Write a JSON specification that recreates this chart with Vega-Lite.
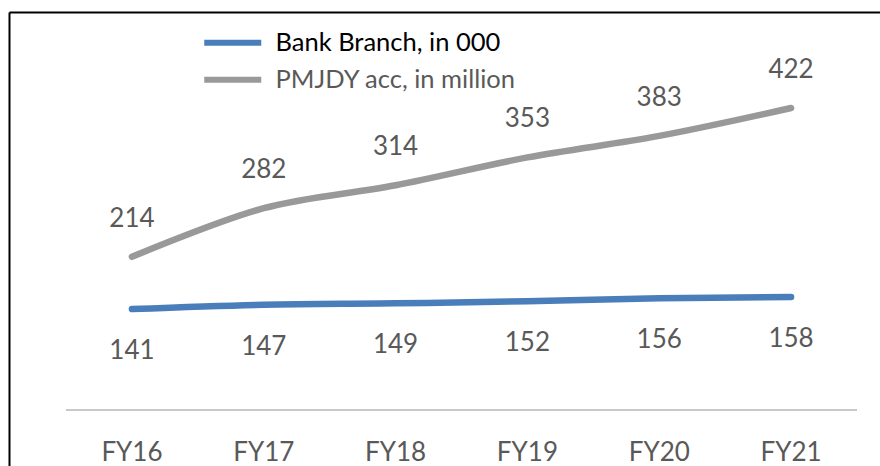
{
  "$schema": "https://vega.github.io/schema/vega-lite/v6.json",
  "usermeta": {"embedOptions": {"actions": false}},
  "width": 871,
  "height": 454,
  "autosize": {"type": "none"},
  "padding": {"left": 9, "top": 12, "right": 0, "bottom": 0},
  "background": "white",
  "config": {"view": {"stroke": null}, "font": "Lato"},
  "data": {
    "values": [
      {"series": "Bank Branch, in 000", "year": "FY16", "value": 141},
      {"series": "Bank Branch, in 000", "year": "FY17", "value": 147},
      {"series": "Bank Branch, in 000", "year": "FY18", "value": 149},
      {"series": "Bank Branch, in 000", "year": "FY19", "value": 152},
      {"series": "Bank Branch, in 000", "year": "FY20", "value": 156},
      {"series": "Bank Branch, in 000", "year": "FY21", "value": 158},
      {"series": "PMJDY acc, in million", "year": "FY16", "value": 214},
      {"series": "PMJDY acc, in million", "year": "FY17", "value": 282},
      {"series": "PMJDY acc, in million", "year": "FY18", "value": 314},
      {"series": "PMJDY acc, in million", "year": "FY19", "value": 353},
      {"series": "PMJDY acc, in million", "year": "FY20", "value": 383},
      {"series": "PMJDY acc, in million", "year": "FY21", "value": 422}
    ]
  },
  "resolve": {"axis": {"x": "independent"}},
  "layer": [
    {
      "mark": {"type": "rule", "color": "#c8c8c8", "strokeWidth": 1.5},
      "encoding": {
        "x": {
          "datum": "FY16",
          "type": "ordinal",
          "bandPosition": 0,
          "scale": {"type": "band", "domain": ["FY16", "FY17", "FY18", "FY19", "FY20", "FY21"], "paddingInner": 0, "paddingOuter": 0.3035, "align": 0.7125},
          "axis": {"orient": "top", "title": null, "labels": false, "ticks": false, "grid": false, "domainColor": "#000000", "domainWidth": 2}
        },
        "x2": {"datum": "FY21", "bandPosition": 1},
        "y": {
          "datum": 0,
          "type": "quantitative",
          "scale": {"domain": [-78.3, 556.2], "zero": false, "nice": false},
          "axis": {"title": null, "labels": false, "ticks": false, "grid": false, "domainColor": "#000000", "domainWidth": 2}
        }
      }
    },
    {
      "encoding": {
        "x": {
          "field": "year",
          "type": "ordinal",
          "axis": {
            "title": null,
            "orient": "bottom",
            "offset": -56,
            "labelAngle": 0,
            "ticks": false,
            "grid": false,
            "domain": false,
            "labelFontSize": 26,
            "labelColor": "#595959",
            "labelPadding": 29
          }
        },
        "y": {"field": "value", "type": "quantitative"}
      },
      "layer": [
        {
          "mark": {"type": "line", "strokeWidth": 6.5, "interpolate": "catmull-rom", "strokeCap": "round"},
          "encoding": {
            "color": {
              "field": "series",
              "type": "nominal",
              "scale": {"domain": ["Bank Branch, in 000", "PMJDY acc, in million"], "range": ["#4a7ebb", "#999999"]},
              "legend": {
                "title": null,
                "orient": "none",
                "legendX": 211,
                "legendY": 18,
                "symbolType": "M-3,0H3",
                "symbolSize": 361,
                "symbolStrokeWidth": 6,
                "labelFontSize": 25.5,
                "labelOffset": 30,
                "rowPadding": 10,
                "labelLimit": 400,
                "encode": {
                  "labels": {
                    "update": {
                      "fill": {"signal": "datum.label === 'Bank Branch, in 000' ? '#000000' : '#595959'"}
                    }
                  }
                }
              }
            }
          }
        },
        {
          "transform": [{"filter": "datum.series === 'PMJDY acc, in million'"}],
          "mark": {"type": "text", "fontSize": 26, "color": "#595959", "dy": -38, "baseline": "middle"},
          "encoding": {"text": {"field": "value", "type": "quantitative"}}
        },
        {
          "transform": [{"filter": "datum.series === 'Bank Branch, in 000'"}],
          "mark": {"type": "text", "fontSize": 26, "color": "#595959", "dy": 42, "baseline": "middle"},
          "encoding": {"text": {"field": "value", "type": "quantitative"}}
        }
      ]
    }
  ]
}
